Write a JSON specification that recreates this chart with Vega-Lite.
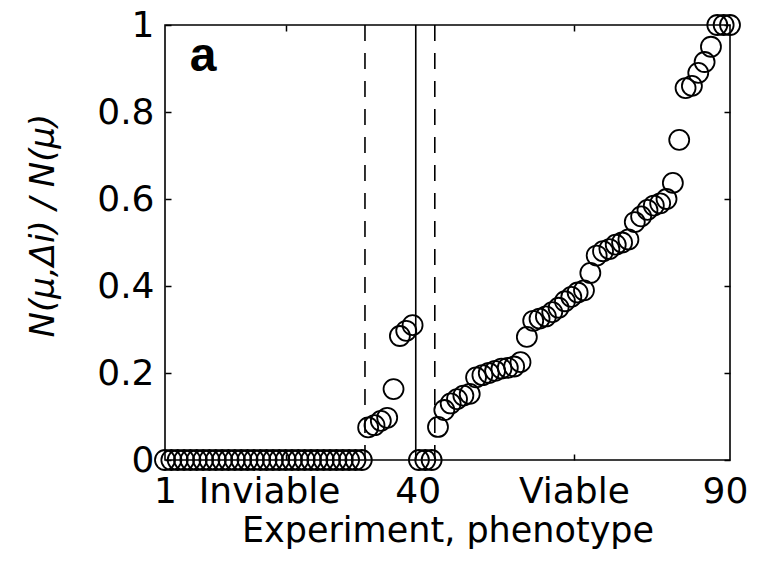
{
  "$schema": "https://vega.github.io/schema/vega-lite/v6.json",
  "width": 565,
  "height": 435,
  "autosize": "none",
  "padding": {"left": 165, "top": 25, "right": 30, "bottom": 110},
  "background": "white",
  "config": {
    "view": {"stroke": "black", "strokeWidth": 1.6},
    "axis": {
      "grid": false,
      "domain": false,
      "labelFont": "DejaVu Sans",
      "labelFontSize": 36,
      "labelColor": "black",
      "titleFont": "DejaVu Sans",
      "titleFontSize": 35,
      "titleFontWeight": "normal",
      "titleColor": "black",
      "tickColor": "black",
      "tickWidth": 1.5,
      "labelFlush": false,
      "labelOverlap": false,
      "labelBound": false
    }
  },
  "resolve": {"axis": {"x": "independent", "y": "independent"}},
  "layer": [
    {
      "data": {
        "values": [
          {"experiment": 1, "ratio": 0}, {"experiment": 2, "ratio": 0}, {"experiment": 3, "ratio": 0}, {"experiment": 4, "ratio": 0},
          {"experiment": 5, "ratio": 0}, {"experiment": 6, "ratio": 0}, {"experiment": 7, "ratio": 0}, {"experiment": 8, "ratio": 0},
          {"experiment": 9, "ratio": 0}, {"experiment": 10, "ratio": 0}, {"experiment": 11, "ratio": 0}, {"experiment": 12, "ratio": 0},
          {"experiment": 13, "ratio": 0}, {"experiment": 14, "ratio": 0}, {"experiment": 15, "ratio": 0}, {"experiment": 16, "ratio": 0},
          {"experiment": 17, "ratio": 0}, {"experiment": 18, "ratio": 0}, {"experiment": 19, "ratio": 0}, {"experiment": 20, "ratio": 0},
          {"experiment": 21, "ratio": 0}, {"experiment": 22, "ratio": 0}, {"experiment": 23, "ratio": 0}, {"experiment": 24, "ratio": 0},
          {"experiment": 25, "ratio": 0}, {"experiment": 26, "ratio": 0}, {"experiment": 27, "ratio": 0}, {"experiment": 28, "ratio": 0},
          {"experiment": 29, "ratio": 0}, {"experiment": 30, "ratio": 0}, {"experiment": 31, "ratio": 0}, {"experiment": 32, "ratio": 0},
          {"experiment": 33, "ratio": 0.075}, {"experiment": 34, "ratio": 0.08}, {"experiment": 35, "ratio": 0.09}, {"experiment": 36, "ratio": 0.097},
          {"experiment": 37, "ratio": 0.163}, {"experiment": 38, "ratio": 0.285}, {"experiment": 39, "ratio": 0.297}, {"experiment": 40, "ratio": 0.31},
          {"experiment": 41, "ratio": 0}, {"experiment": 42, "ratio": 0}, {"experiment": 43, "ratio": 0},
          {"experiment": 44, "ratio": 0.076}, {"experiment": 45, "ratio": 0.115}, {"experiment": 46, "ratio": 0.13}, {"experiment": 47, "ratio": 0.14},
          {"experiment": 48, "ratio": 0.148}, {"experiment": 49, "ratio": 0.152}, {"experiment": 50, "ratio": 0.19}, {"experiment": 51, "ratio": 0.195},
          {"experiment": 52, "ratio": 0.2}, {"experiment": 53, "ratio": 0.205}, {"experiment": 54, "ratio": 0.21}, {"experiment": 55, "ratio": 0.212},
          {"experiment": 56, "ratio": 0.215}, {"experiment": 57, "ratio": 0.225}, {"experiment": 58, "ratio": 0.283}, {"experiment": 59, "ratio": 0.32},
          {"experiment": 60, "ratio": 0.325}, {"experiment": 61, "ratio": 0.33}, {"experiment": 62, "ratio": 0.34}, {"experiment": 63, "ratio": 0.35},
          {"experiment": 64, "ratio": 0.365}, {"experiment": 65, "ratio": 0.375}, {"experiment": 66, "ratio": 0.385}, {"experiment": 67, "ratio": 0.39},
          {"experiment": 68, "ratio": 0.43}, {"experiment": 69, "ratio": 0.47}, {"experiment": 70, "ratio": 0.48}, {"experiment": 71, "ratio": 0.485},
          {"experiment": 72, "ratio": 0.495}, {"experiment": 73, "ratio": 0.5}, {"experiment": 74, "ratio": 0.507}, {"experiment": 75, "ratio": 0.547},
          {"experiment": 76, "ratio": 0.56}, {"experiment": 77, "ratio": 0.575}, {"experiment": 78, "ratio": 0.585}, {"experiment": 79, "ratio": 0.59},
          {"experiment": 80, "ratio": 0.6}, {"experiment": 81, "ratio": 0.637}, {"experiment": 82, "ratio": 0.736}, {"experiment": 83, "ratio": 0.855},
          {"experiment": 84, "ratio": 0.86}, {"experiment": 85, "ratio": 0.89}, {"experiment": 86, "ratio": 0.915}, {"experiment": 87, "ratio": 0.95},
          {"experiment": 88, "ratio": 1}, {"experiment": 89, "ratio": 1}, {"experiment": 90, "ratio": 1}
        ]
      },
      "mark": {"type": "point", "shape": "circle", "filled": false, "stroke": "black", "strokeWidth": 1.8, "size": 400, "opacity": 1, "clip": false},
      "encoding": {
        "x": {
          "field": "experiment", "type": "quantitative",
          "scale": {"domain": [1, 90], "nice": false, "zero": false},
          "axis": {
            "orient": "bottom",
            "title": "Experiment, phenotype",
            "values": [1, 17.4, 20, 40.8, 65.4, 89.2],
            "labelExpr": "datum.value == 1 ? '1' : datum.value == 17.4 ? 'Inviable' : datum.value == 40.8 ? '40' : datum.value == 65.4 ? 'Viable' : datum.value == 89.2 ? '90' : ''",
            "tickSize": -6,
            "tickOpacity": {"condition": {"test": "datum.value == 20 || datum.value == 65.4", "value": 1}, "value": 0},
            "labelPadding": 20,
            "titlePadding": 4
          }
        },
        "y": {
          "field": "ratio", "type": "quantitative",
          "scale": {"domain": [0, 1], "nice": false, "zero": false},
          "axis": {
            "orient": "left",
            "title": "N(μ,Δi) / N(μ)",
            "titleFontStyle": "italic",
            "titleFontSize": 34,
            "titleY": 200,
            "values": [0, 0.2, 0.4, 0.6, 0.8, 1],
            "format": "~g",
            "tickSize": -6,
            "labelPadding": 17,
            "titlePadding": 36
          }
        }
      }
    },
    {
      "data": {
        "values": [
          {"threshold": 32.5, "style": "dashed"},
          {"threshold": 40.5, "style": "solid"},
          {"threshold": 43.5, "style": "dashed"}
        ]
      },
      "mark": {"type": "rule", "color": "black", "strokeWidth": 1.6},
      "encoding": {
        "x": {
          "field": "threshold", "type": "quantitative",
          "axis": {"orient": "top", "title": null, "values": [20, 65.4], "labels": false, "tickSize": -6}
        },
        "strokeDash": {
          "field": "style", "type": "nominal",
          "scale": {"domain": ["solid", "dashed"], "range": [[1, 0], [16, 12]]},
          "legend": null
        }
      }
    },
    {
      "data": {"values": [{"panel": "a"}]},
      "mark": {"type": "text", "font": "Liberation Sans", "fontWeight": "bold", "fontSize": 48, "align": "center", "baseline": "middle", "color": "black"},
      "encoding": {
        "x": {"datum": 7, "type": "quantitative", "axis": null},
        "y": {
          "datum": 0.926, "type": "quantitative",
          "axis": {"orient": "right", "title": null, "values": [0, 0.2, 0.4, 0.6, 0.8, 1], "labels": false, "tickSize": -6}
        },
        "text": {"field": "panel"}
      }
    }
  ]
}
